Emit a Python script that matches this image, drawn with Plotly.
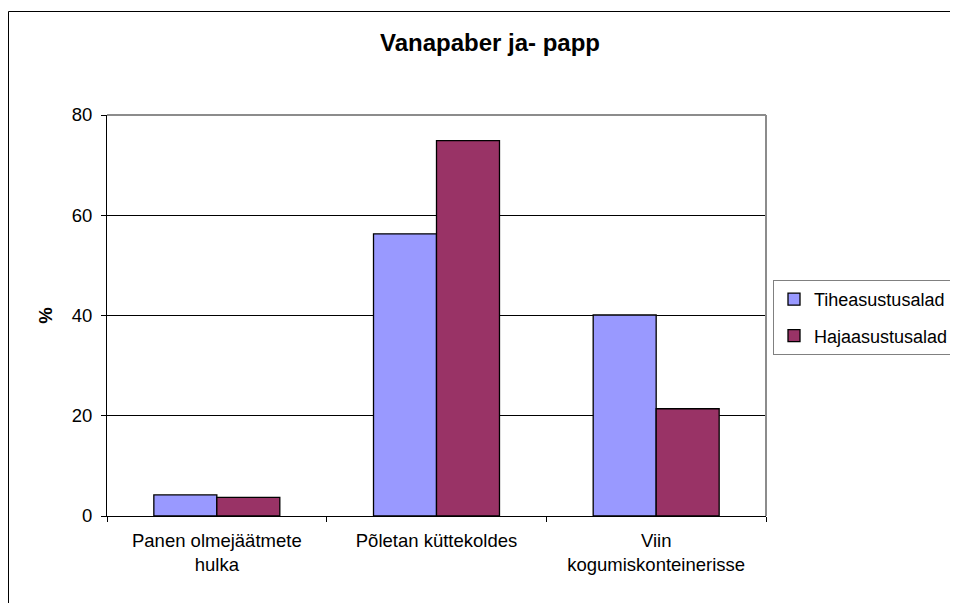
import plotly.graph_objects as go

# Data
categories = ["Panen olmejäätmete<br>hulka", "Põletan küttekoldes", "Viin<br>kogumiskonteinerisse"]
tihe_values = [4.2, 56.3, 40.1]
haja_values = [3.7, 74.9, 21.4]
series_names = ["Tiheasustusalad", "Hajaasustusalad"]
y_ticks = [0, 20, 40, 60, 80]

FONT = "Liberation Sans, Arial, sans-serif"

# page has an 8px body margin, so the figure is shrunk and shifted to match
W, H = 950, 595
L, T = 99, 107
PW, PH = 659, 401
R, B = W - L - PW, H - T - PH


def px_x(page_x):
    return (page_x - 8 - L) / PW


def px_y(page_y):
    return (T + PH - (page_y - 8)) / PH


fig = go.Figure()
fig.add_trace(go.Bar(
    x=categories, y=tihe_values, name=series_names[0], legendgroup="a",
    marker=dict(color="#9999FF", line=dict(color="#000000", width=1.3)),
))
fig.add_trace(go.Bar(
    x=categories, y=haja_values, name=series_names[1], legendgroup="b",
    marker=dict(color="#993366", line=dict(color="#000000", width=1.3)),
))

fig.update_layout(
    width=W, height=H,
    margin=dict(l=L, r=R, t=T, b=B, autoexpand=False),
    paper_bgcolor="white", plot_bgcolor="white",
    font=dict(family=FONT, size=18, color="#000000"),
    barmode="group", bargap=0.4265, bargroupgap=0,
    title=dict(text="<b>Vanapaber ja- papp</b>", x=(490 - 8) / W, xanchor="center",
               y=1 - (43 - 8) / H, yanchor="middle",
               font=dict(family=FONT, size=24, color="#000000")),
    legend=dict(x=px_x(773), y=px_y(280), xanchor="left", yanchor="top",
                bordercolor="#808080", borderwidth=1, bgcolor="white",
                font=dict(family=FONT, size=18), traceorder="grouped",
                tracegroupgap=10, itemwidth=30),
    showlegend=True,
)

fig.update_xaxes(
    showline=True, linecolor="#000000", linewidth=1,
    ticks="outside", tickson="boundaries", ticklen=5, tickcolor="#000000",
    showgrid=False, tickfont=dict(size=18.5), ticklabelstandoff=8,
)
fig.update_yaxes(
    range=[0, 80], tickvals=y_ticks, showline=True, linecolor="#000000", linewidth=1,
    ticks="outside", ticklen=5, tickcolor="#000000",
    showgrid=True, gridcolor="#000000", gridwidth=1, zeroline=False,
    tickfont=dict(size=18.5), ticklabelstandoff=5,
    title=dict(text="<b>%</b>", font=dict(size=18.5), standoff=14),
)

# grey top and right edges of the plot area (Excel style)
fig.add_shape(type="line", xref="paper", yref="paper", x0=0, x1=1, y0=1, y1=1,
              line=dict(color="#8c8c8c", width=2))
fig.add_shape(type="line", xref="paper", yref="paper", x0=1, x1=1, y0=0, y1=1,
              line=dict(color="#8c8c8c", width=2))
# outer chart border, cut off at the right and bottom
fig.add_shape(type="rect", xref="paper", yref="paper",
              x0=(0.5 - L) / PW, x1=px_x(975),
              y0=px_y(620), y1=px_y(11.5),
              line=dict(color="#000000", width=1))

fig.write_html("out.html")
